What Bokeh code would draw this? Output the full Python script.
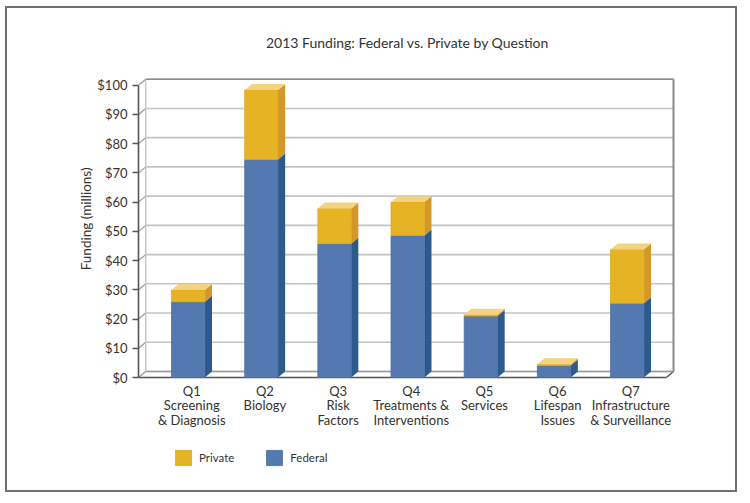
from bokeh.plotting import figure
from bokeh.models import Range1d, FixedTicker, Legend, LegendItem, Title
from bokeh.core.properties import value
from bokeh.embed import file_html
from bokeh.resources import INLINE

# ---- data ----
questions = ["Q1\nScreening\n& Diagnosis", "Q2\nBiology", "Q3\nRisk\nFactors",
             "Q4\nTreatments &\nInterventions", "Q5\nServices", "Q6\nLifespan\nIssues",
             "Q7\nInfrastructure\n& Surveillance"]
federal = [25.9, 74.6, 45.8, 48.6, 21.0, 4.1, 25.4]
private = [4.0, 23.8, 12.0, 11.4, 0.5, 0.4, 18.4]
y_ticks = [0, 10, 20, 30, 40, 50, 60, 70, 80, 90, 100]
y_tick_labels = ["$0", "$10", "$20", "$30", "$40", "$50", "$60", "$70", "$80", "$90", "$100"]

FONT = "Lato"
TXT = "#333333"

# geometry
PX_Y = 2.923        # pixels per data unit (y)
xs = list(range(1, len(questions) + 1))
BW = 0.455          # bar width
DX = 0.098          # depth in x
DY = 2.05           # depth in y
XL = 0.321          # front-left of floor
XR = 7.633          # back-right wall
YMAX = 100
Y0 = -113.0 / PX_Y  # frame bottom below the floor
Y1 = 305.0 / PX_Y

p = figure(width=732, height=486, output_backend="svg", toolbar_location=None,
           x_range=Range1d(XL, 7.674), y_range=Range1d(Y0, Y1),
           min_border_left=131, min_border_right=63, min_border_top=64,
           min_border_bottom=4, title="2013 Funding: Federal vs. Private by Question")
p.styles = {"border": "2px solid #707070", "margin-left": "5px", "margin-top": "6px"}
p.outline_line_color = None
p.grid.visible = False
p.background_fill_color = "white"
p.border_fill_color = "white"
p.xaxis.visible = False

p.title.align = "center"
p.title.text_font = FONT
p.title.text_font_size = "14px"
p.title.text_font_style = "normal"
p.title.text_color = TXT
p.title.standoff = 44

# ---- walls ----
grid_y = [t + DY for t in y_ticks]
p.segment(x0=[XL + DX] * len(y_ticks), x1=[XR] * len(y_ticks), y0=grid_y, y1=grid_y,
          line_color="#c4c4c4", line_width=1.6)
p.segment(x0=[XL] * len(y_ticks), x1=[XL + DX] * len(y_ticks), y0=y_ticks, y1=grid_y,
          line_color="#9a9a9a", line_width=1.2)
p.segment(x0=[XL + DX], x1=[XL + DX], y0=[DY], y1=[YMAX + DY], line_color="#c4c4c4", line_width=1.4)
p.segment(x0=[XR], x1=[XR], y0=[DY], y1=[YMAX + DY], line_color="#8a8a8a", line_width=2)
p.segment(x0=[XL + DX], x1=[XR], y0=[YMAX + DY], y1=[YMAX + DY], line_color="#8a8a8a", line_width=1.6)
p.segment(x0=[XR - DX], x1=[XR], y0=[0], y1=[DY], line_color="#555555", line_width=1.4)
p.segment(x0=[XL + DX], x1=[XR], y0=[DY], y1=[DY], line_color="#9a9a9a", line_width=1.4)
p.segment(x0=[XL], x1=[XR - DX], y0=[0], y1=[0], line_color="#555555", line_width=1.6)

# ---- 3D bars ----
BLUE, BLUE_S = "#5478b0", "#2c5a8c"
GOLD, GOLD_S, GOLD_T = "#e6b324", "#d4982a", "#f3d37f"

def side(x, b, t):
    r = x + BW / 2
    return [r, r + DX, r + DX, r], [b, b + DY, t + DY, t]

def top(x, t):
    l, r = x - BW / 2, x + BW / 2
    return [l, l + DX, r + DX, r], [t, t + DY, t + DY, t]

tops = [f + q for f, q in zip(federal, private)]

fs = [side(x, 0, f) for x, f in zip(xs, federal)]
p.patches(xs=[s[0] for s in fs], ys=[s[1] for s in fs], fill_color=BLUE_S, line_color=None)
fed_r = p.quad(left=[x - BW / 2 for x in xs], right=[x + BW / 2 for x in xs],
               bottom=[0] * len(xs), top=federal, fill_color=BLUE, line_color="#4a6ea6", line_width=0.8)

ps = [side(x, f, t) for x, f, t in zip(xs, federal, tops)]
p.patches(xs=[s[0] for s in ps], ys=[s[1] for s in ps], fill_color=GOLD_S, line_color=None)
priv_r = p.quad(left=[x - BW / 2 for x in xs], right=[x + BW / 2 for x in xs],
                bottom=federal, top=tops, fill_color=GOLD, line_color="#e0a91c", line_width=0.8)
tp = [top(x, t) for x, t in zip(xs, tops)]
p.patches(xs=[s[0] for s in tp], ys=[s[1] for s in tp], fill_color=GOLD_T, line_color=None)

# ---- category labels ----
label_pos = [x + DX / 2 for x in xs]
p.text(x=label_pos, y=[-5.0 / PX_Y] * len(xs), text=questions, text_align="center",
       text_baseline="top", text_font=value(FONT), text_font_size="13px",
       text_color=TXT, text_line_height=0.93)

# ---- y axis ----
yax = p.yaxis[0]
yax.ticker = FixedTicker(ticks=y_ticks)
yax.major_label_overrides = {t: l for t, l in zip(y_ticks, y_tick_labels)}
yax.bounds = (0, YMAX)
yax.axis_line_color = "#555555"
yax.axis_line_width = 1.6
yax.major_tick_line_color = "#555555"
yax.major_tick_line_width = 1.4
yax.major_tick_out = 6
yax.major_tick_in = 0
yax.minor_tick_line_color = None
yax.major_label_text_font = FONT
yax.major_label_text_font_size = "13px"
yax.major_label_text_color = TXT
yax.major_label_standoff = 5

ytitle = Title(text="Funding (millions)", align="right", offset=95, standoff=1,
               text_font=FONT, text_font_size="13.5px", text_font_style="normal",
               text_color=TXT)
p.add_layout(ytitle, "left")

# ---- legend ----
legend = Legend(items=[LegendItem(label="Private", renderers=[priv_r]),
                       LegendItem(label="Federal", renderers=[fed_r])],
                orientation="horizontal", location=(35, 23),
                glyph_width=20, glyph_height=19, label_text_font=FONT,
                label_text_font_size="11.5px", label_text_color=TXT,
                spacing=30, padding=0, margin=0, label_standoff=6,
                border_line_color=None, background_fill_alpha=0)
p.add_layout(legend, "center")

open("out.html", "w").write(file_html(p, INLINE))
